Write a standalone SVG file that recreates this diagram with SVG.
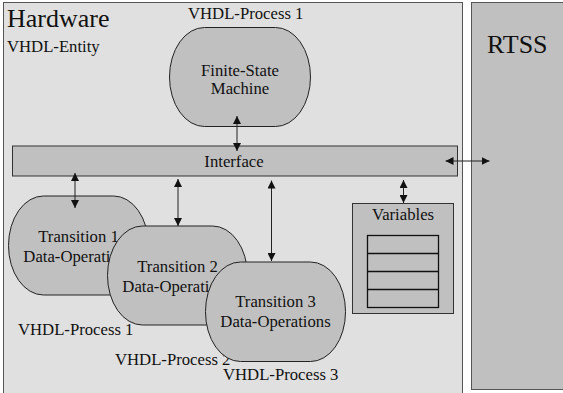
<svg xmlns="http://www.w3.org/2000/svg" width="563" height="393" viewBox="0 0 563 393" font-family="'Liberation Serif', 'DejaVu Serif', serif">
  <style>
    text { font-family: 'Liberation Serif', 'DejaVu Serif', serif; font-size: 16.7px; fill: #111; }
    .big { font-size: 26px; }
    .mid { text-anchor: middle; }
    .proc { fill: #c0c0c0; stroke: #222; stroke-width: 1; }
    .box { fill: #c0c0c0; stroke: #333; stroke-width: 1; }
    .row { stroke: #111; stroke-width: 1.6; }
    .conn { stroke: #222; stroke-width: 1; fill: none; marker-start: url(#head); marker-end: url(#head); }
  </style>
  <defs>
    <marker id="head" viewBox="0 0 8 8" refX="8" refY="4" markerWidth="8" markerHeight="8" markerUnits="userSpaceOnUse" orient="auto-start-reverse">
      <path d="M0,0 L8,4 L0,8 z" fill="#111"/>
    </marker>
  </defs>

  <!-- Hardware entity frame -->
  <g id="hardware">
    <rect x="3.5" y="2.5" width="459" height="395" fill="#e0e0e0" stroke="#555" stroke-width="1"/>
    <text class="big" x="7" y="27">Hardware</text>
    <text x="7" y="52">VHDL-Entity</text>
  </g>

  <!-- Runtime support system -->
  <g id="rtss">
    <rect x="471.5" y="2.5" width="96" height="387" fill="#c0c0c0" stroke="#555" stroke-width="1"/>
    <text class="big" x="487" y="53">RTSS</text>
  </g>

  <!-- Finite-state machine process -->
  <g id="fsm">
    <text x="188" y="18.5">VHDL-Process 1</text>
    <rect class="proc" x="169.5" y="27.5" width="141" height="99" rx="35" ry="49.5"/>
    <text class="mid" x="240" y="76">Finite-State</text>
    <text class="mid" x="240" y="94">Machine</text>
  </g>

  <!-- Interface bar -->
  <g id="interface">
    <rect class="box" x="12.5" y="146" width="445" height="30"/>
    <text class="mid" x="234" y="167">Interface</text>
  </g>

  <!-- Transition processes (later ones overlap earlier ones) -->
  <g id="transition1">
    <rect class="proc" x="8.5" y="196" width="140" height="99" rx="35" ry="49.5"/>
    <text class="mid" x="78.5" y="242">Transition 1</text>
    <text class="mid" x="78.5" y="262">Data-Operations</text>
    <text x="18" y="334.5">VHDL-Process 1</text>
  </g>
  <g id="transition2">
    <rect class="proc" x="107.5" y="226" width="140" height="99" rx="35" ry="49.5"/>
    <text class="mid" x="177.5" y="272">Transition 2</text>
    <text class="mid" x="177.5" y="292">Data-Operations</text>
    <text x="115" y="365">VHDL-Process 2</text>
  </g>
  <g id="transition3">
    <rect class="proc" x="205.5" y="262" width="140" height="99.5" rx="35" ry="49.5"/>
    <text class="mid" x="275.5" y="307">Transition 3</text>
    <text class="mid" x="275.5" y="327">Data-Operations</text>
    <text x="223" y="380">VHDL-Process 3</text>
  </g>

  <!-- Variables store -->
  <g id="variables">
    <rect class="box" x="352.5" y="203.5" width="101" height="110"/>
    <text class="mid" x="403" y="219.5">Variables</text>
    <rect x="367.5" y="235.5" width="71" height="72" fill="#c0c0c0" stroke="#111" stroke-width="1.3"/>
    <line class="row" x1="367.5" y1="253.5" x2="438.5" y2="253.5"/>
    <line class="row" x1="367.5" y1="271.5" x2="438.5" y2="271.5"/>
    <line class="row" x1="367.5" y1="289.5" x2="438.5" y2="289.5"/>
  </g>

  <!-- Connectors -->
  <g id="connectors">
    <line class="conn" x1="237" y1="116" x2="237" y2="151"/>
    <line class="conn" x1="75" y1="173" x2="75" y2="208"/>
    <line class="conn" x1="178" y1="179" x2="178" y2="226"/>
    <line class="conn" x1="271.5" y1="180.5" x2="271.5" y2="261"/>
    <line class="conn" x1="403.5" y1="180" x2="403.5" y2="203"/>
    <line class="conn" x1="445.5" y1="161" x2="489.5" y2="161"/>
  </g>
</svg>
